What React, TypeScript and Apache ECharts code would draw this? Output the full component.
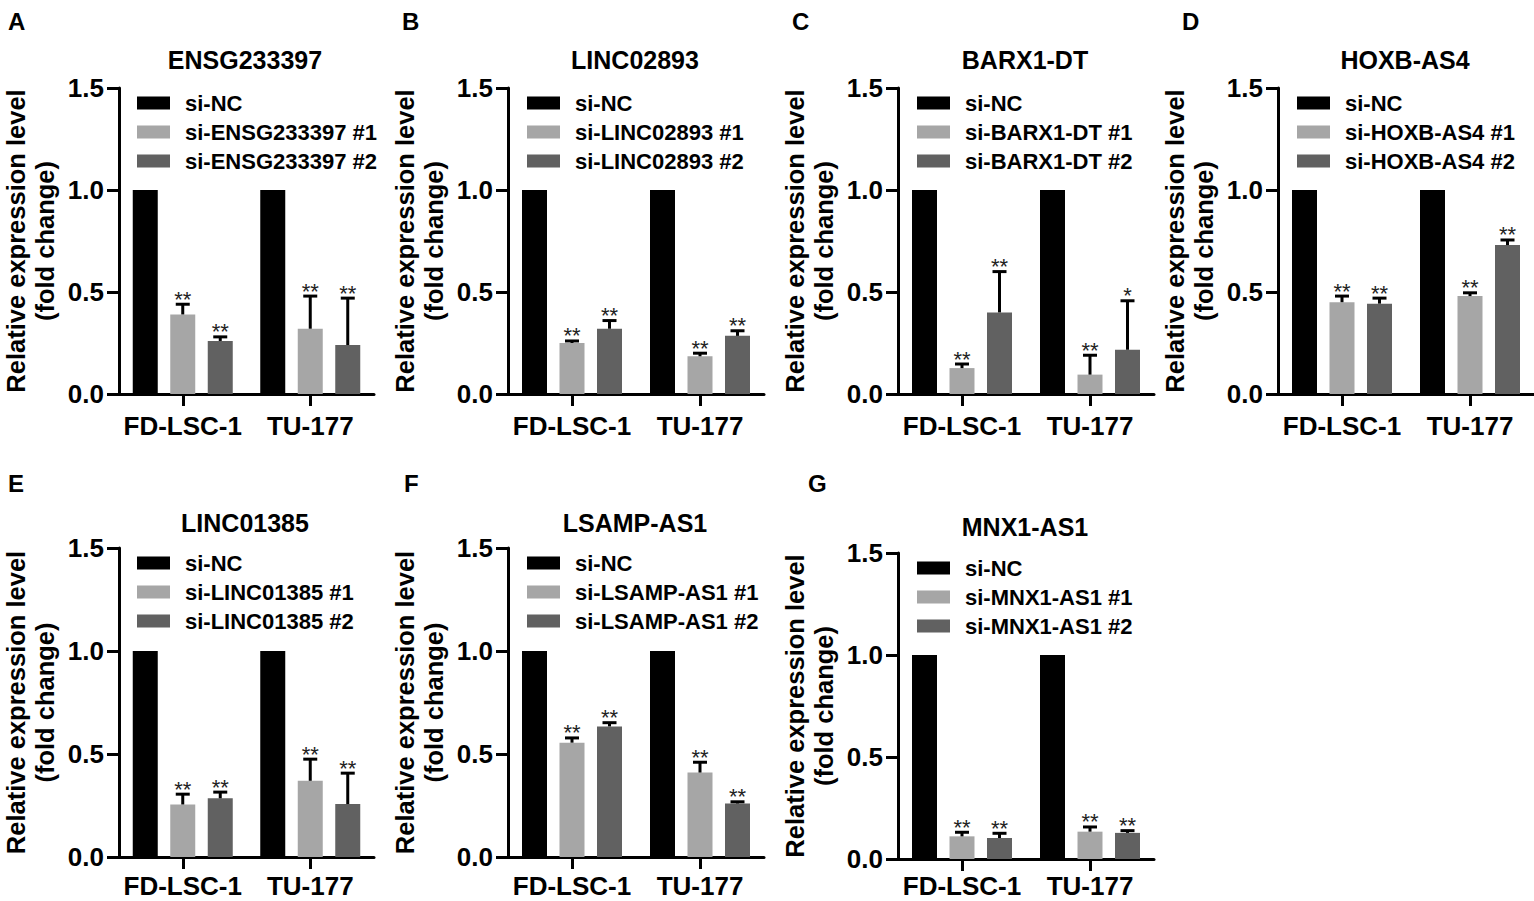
import React, { useEffect, useRef } from 'react';
import * as echarts from 'echarts';

const categories = ['FD-LSC-1', 'TU-177'];
const panelLetters = ['A', 'B', 'C', 'D', 'E', 'F', 'G'];
const genes = ['ENSG233397', 'LINC02893', 'BARX1-DT', 'HOXB-AS4', 'LINC01385', 'LSAMP-AS1', 'MNX1-AS1'];
const ncValues = [1, 1];
// [FD-LSC-1, TU-177] per panel
const si1Means = [[0.39, 0.32], [0.25, 0.185], [0.127, 0.095], [0.45, 0.48], [0.255, 0.37], [0.555, 0.41], [0.111, 0.134]];
const si1Errors = [[0.05, 0.16], [0.01, 0.015], [0.02, 0.095], [0.03, 0.016], [0.05, 0.105], [0.023, 0.05], [0.02, 0.023]];
const si2Means = [[0.26, 0.24], [0.32, 0.285], [0.40, 0.217], [0.443, 0.73], [0.285, 0.257], [0.634, 0.26], [0.103, 0.128]];
const si2Errors = [[0.02, 0.23], [0.04, 0.025], [0.2, 0.24], [0.027, 0.025], [0.03, 0.15], [0.018, 0.008], [0.023, 0.011]];
const si1Stars = [[2, 2], [2, 2], [2, 2], [2, 2], [2, 2], [2, 2], [2, 2]];
const si2Stars = [[2, 2], [2, 2], [2, 1], [2, 2], [2, 2], [2, 2], [2, 2]];

const yAxisName = 'Relative expression level\n(fold change)';
const FONT = '"Liberation Sans", Arial, Helvetica, sans-serif';
const COLORS = ['#000000', '#a6a6a6', '#616161'];

const layout = [
  { left: 118, top: 88, height: 306, letterX: 8, letterY: 9, titleY: 60, xMargin: 19 },
  { left: 508, top: 88, height: 306, letterX: 402, letterY: 9, titleY: 60, xMargin: 19 },
  { left: 898, top: 88, height: 306, letterX: 792, letterY: 9, titleY: 60, xMargin: 19 },
  { left: 1278, top: 88, height: 306, letterX: 1182, letterY: 9, titleY: 60, xMargin: 19 },
  { left: 118, top: 548, height: 309, letterX: 8, letterY: 471, titleY: 523, xMargin: 16 },
  { left: 508, top: 548, height: 309, letterX: 404, letterY: 471, titleY: 523, xMargin: 16 },
  { left: 898, top: 553, height: 306, letterX: 808, letterY: 471, titleY: 527, xMargin: 14 },
];

const GRID_W = 256;
const BAR_W = 25;
const BAR_STEP = 37.5;

function buildOption() {
  const grid: any[] = [];
  const xAxis: any[] = [];
  const yAxis: any[] = [];
  const series: any[] = [];
  const legend: any[] = [];
  const graphic: any[] = [];

  layout.forEach((l, i) => {
    const gene = genes[i];
    const n1 = `si-${gene} #1`;
    const n2 = `si-${gene} #2`;
    grid.push({ left: l.left, top: l.top, height: l.height, width: GRID_W });
    xAxis.push({
      gridIndex: i,
      type: 'category',
      data: categories,
      axisLine: { show: true, lineStyle: { color: '#000', width: 3 } },
      axisTick: { show: true, alignWithLabel: true, length: 12, lineStyle: { color: '#000', width: 3 } },
      axisLabel: {
        interval: 0, fontSize: 26, lineHeight: 26, fontWeight: 'bold', color: '#000',
        margin: l.xMargin, fontFamily: FONT,
      },
      splitLine: { show: false },
    });
    yAxis.push({
      gridIndex: i,
      type: 'value',
      min: 0,
      max: 1.5,
      interval: 0.5,
      axisLine: { show: true, lineStyle: { color: '#000', width: 3 } },
      axisTick: { show: true, length: 12, lineStyle: { color: '#000', width: 3 } },
      axisLabel: {
        fontSize: 26, fontWeight: 'bold', color: '#000', margin: 15, fontFamily: FONT,
        formatter: (v: number) => v.toFixed(1),
      },
      splitLine: { show: false },
      name: yAxisName,
      nameLocation: 'middle',
      nameGap: 60,
      nameRotate: 90,
      nameTextStyle: { fontSize: 25.5, fontWeight: 'bold', color: '#000', lineHeight: 29, fontFamily: FONT },
    });
    const names = ['si-NC', n1, n2];
    const datas = [ncValues, si1Means[i], si2Means[i]];
    names.forEach((nm, k) => {
      series.push({
        type: 'bar',
        name: nm,
        xAxisIndex: i,
        yAxisIndex: i,
        data: datas[k],
        barWidth: BAR_W,
        barGap: '50%',
        itemStyle: { color: COLORS[k] },
        silent: true,
      });
    });
    const errData: number[][] = [];
    [0, 1].forEach((c) => {
      errData.push([c, 1, si1Means[i][c], si1Errors[i][c], si1Stars[i][c]]);
      errData.push([c, 2, si2Means[i][c], si2Errors[i][c], si2Stars[i][c]]);
    });
    series.push({
      type: 'custom',
      name: 'err' + i,
      xAxisIndex: i,
      yAxisIndex: i,
      data: errData,
      z: 5,
      silent: true,
      renderItem: (params: any, api: any) => {
        const c = api.value(0);
        const k = api.value(1);
        const m = api.value(2);
        const e = api.value(3);
        const s = api.value(4);
        const base = api.coord([c, m]);
        const top = api.coord([c, m + e]);
        const x = base[0] + (k - 1) * BAR_STEP;
        return {
          type: 'group',
          children: [
            { type: 'line', shape: { x1: x, y1: base[1], x2: x, y2: top[1] }, style: { stroke: '#000', lineWidth: 3 } },
            { type: 'line', shape: { x1: x - 7, y1: top[1], x2: x + 7, y2: top[1] }, style: { stroke: '#000', lineWidth: 3 } },
            {
              type: 'text',
              x: x,
              y: top[1] - 5,
              style: {
                text: '*'.repeat(s), fontSize: 22, fontFamily: FONT, fill: '#222',
                textAlign: 'center', textVerticalAlign: 'middle', verticalAlign: 'middle',
              },
            },
          ],
        };
      },
    });
    legend.push({
      left: l.left + 19,
      top: l.top + 4,
      orient: 'vertical',
      itemWidth: 33,
      itemHeight: 13,
      itemGap: 7,
      padding: 0,
      selectedMode: false,
      icon: 'rect',
      data: names,
      textStyle: { fontSize: 22, fontWeight: 'bold', color: '#000', lineHeight: 22, fontFamily: FONT, padding: [0, 0, 0, 10] },
    });
    graphic.push({
      type: 'text',
      left: l.letterX,
      top: l.letterY,
      style: { text: panelLetters[i], fontSize: 24, fontWeight: 'bold', fill: '#000', fontFamily: FONT },
    });
    graphic.push({
      type: 'text',
      x: l.left + 127,
      y: l.titleY,
      style: {
        text: gene, fontSize: 25, fontWeight: 'bold', fill: '#000', fontFamily: FONT,
        textAlign: 'center', textVerticalAlign: 'middle', verticalAlign: 'middle',
      },
    });
  });

  return {
    animation: false,
    backgroundColor: '#ffffff',
    textStyle: { fontFamily: FONT },
    grid,
    xAxis,
    yAxis,
    series,
    legend,
    graphic,
    tooltip: { show: false },
  };
}

export default function App() {
  const ref = useRef<HTMLDivElement>(null);
  useEffect(() => {
    if (!ref.current) return;
    const chart = echarts.init(ref.current, undefined, { renderer: 'svg' });
    chart.setOption(buildOption() as any);
    return () => chart.dispose();
  }, []);
  return (
    <div
      ref={ref}
      style={{ position: 'absolute', left: 0, top: 0, width: 1534, height: 901, background: '#fff' }}
    />
  );
}
